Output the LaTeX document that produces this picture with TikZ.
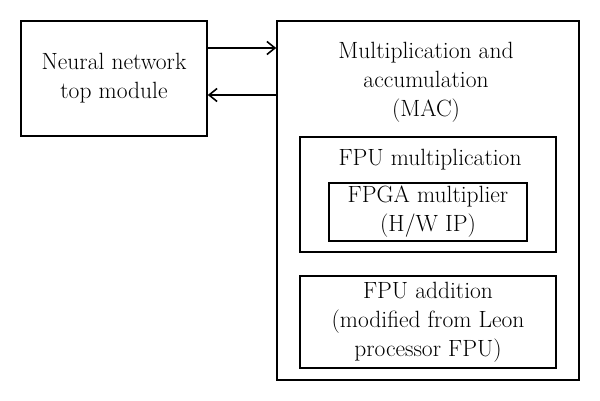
\documentclass[tikz,border=0pt]{standalone}
\usepackage{fontspec}
\setmainfont{Latin Modern Roman}
\usetikzlibrary{arrows.meta,positioning}
\newcommand{\blocktext}{\fontsize{23.5}{29}\selectfont}
\tikzset{
  blockbox/.style={draw, line width=1.6pt, align=center, inner sep=0pt, font=\blocktext},
  boxtitle/.style={align=center, inner sep=0pt, font=\blocktext},
}

\begin{document}
\begin{tikzpicture}[x=1pt,y=-1pt]
  \useasboundingbox (0,0) rectangle (600,401);
  \node[blockbox, minimum width=186pt, minimum height=115pt] (nn) at (114,78.5) {Neural network\\top module};
  \node[blockbox, minimum width=302pt, minimum height=359pt] (mac) at (428,200.5) {};
  \node[boxtitle] (mactitle) at (426,82) {Multiplication and\\accumulation\\(MAC)};
  \node[blockbox, minimum width=256pt, minimum height=115pt] (fpumul) at (428,194.5) {};
  \node[boxtitle] (fpumultitle) at (430,160) {FPU multiplication};
  \node[blockbox, minimum width=198pt, minimum height=58pt] (fpga) at (428,212) {FPGA multiplier\\(H/W IP)};
  \node[blockbox, minimum width=256pt, minimum height=92pt] (fpuadd) at (428,322) {FPU addition\\(modified from Leon\\processor FPU)};
  \path[-{Straight Barb[length=8pt,width=13pt]}, line width=1.6pt]
    ([yshift=30.5pt]nn.east) edge ([yshift=30.5pt]nn.east -| mac.west)
    ([yshift=-16.5pt]nn.east -| mac.west) edge ([yshift=-16.5pt]nn.east);
\end{tikzpicture}
\end{document}
